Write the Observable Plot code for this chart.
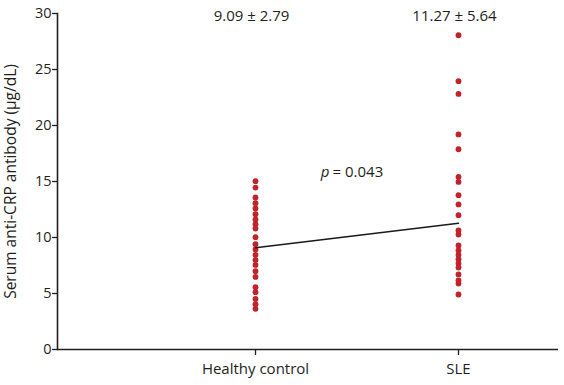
<!DOCTYPE html>
<html>
<head>
<meta charset="utf-8">
<script src="https://cdn.jsdelivr.net/npm/d3@7"></script>
<script src="https://cdn.jsdelivr.net/npm/@observablehq/plot@0.6"></script>
<style>
  html, body { margin: 0; padding: 0; background: #fff; }
</style>
</head>
<body>
<div id="chart"></div>
<script>
const groups = ["Healthy control", "SLE"];
const healthyValues = [15.03, 14.46, 13.57, 13.06, 12.59, 12.08, 11.61, 11.19, 10.80, 10.03, 9.40, 8.93, 8.45, 8.00, 7.55, 6.99, 6.48, 5.56, 5.12, 4.52, 4.04, 3.63];
const sleValues = [28.06, 23.96, 22.82, 19.20, 17.88, 15.41, 14.96, 13.78, 12.95, 11.99, 10.63, 10.27, 9.29, 8.84, 8.45, 8.06, 7.68, 7.32, 6.70, 6.16, 5.89, 4.91];
const means = [9.09, 11.27];
const meanLabels = ["9.09 ± 2.79", "11.27 ± 5.64"];
const pLabel = "= 0.043";
const yTicks = [0, 5, 10, 15, 20, 25, 30];

const points = [
  ...healthyValues.map(v => ({group: groups[0], value: v})),
  ...sleValues.map(v => ({group: groups[1], value: v}))
];
const meanData = groups.map((g, i) => ({group: g, value: means[i], label: meanLabels[i]}));

const font = "'Open Sans', 'Noto Sans', sans-serif";

const plot = Plot.plot({
  width: 564,
  height: 385,
  marginLeft: 57,
  marginRight: 6,
  marginTop: 13,
  marginBottom: 36,
  style: {fontFamily: font, fontSize: "14px", color: "#231f20", background: "#fff"},
  x: {type: "point", domain: groups, range: [255, 458], padding: 0},
  y: {domain: [0, 30], range: [349, 13]},
  marks: [
    Plot.axisY({
      ticks: yTicks,
      tickSize: 5,
      tickPadding: 1,
      stroke: "#231f20",
      strokeWidth: 1.3,
      fontSize: 14.5,
      label: null
    }),
    Plot.text(["Serum anti-CRP antibody (μg/dL)"], {
      frameAnchor: "left", text: d => d, rotate: -90, dx: -46,
      fontSize: 15.5, fill: "#231f20", textAnchor: "middle"
    }),
    Plot.axisX({
      tickSize: 6,
      tickPadding: 8,
      stroke: "#231f20",
      strokeWidth: 1.3,
      fontSize: 15,
      label: null
    }),
    Plot.ruleY([0], {stroke: "#231f20", strokeWidth: 1.6}),
    Plot.frame({anchor: "left", stroke: "#231f20", strokeWidth: 1.6}),
    Plot.dot(points, {x: "group", y: "value", r: 2.9, fill: "#c1232b", stroke: "none"}),
    Plot.line(meanData, {x: "group", y: "value", stroke: "#1a1a1a", strokeWidth: 1.6}),
    Plot.text(meanData, {x: "group", y: 29.8, text: "label", fontSize: 15, fill: "#231f20", dx: -4}),
    Plot.text([pLabel], {x: () => groups[0], y: 15.8, text: d => d, fontSize: 15, fill: "#231f20", dx: 77, textAnchor: "start"}),
    Plot.text(["p"], {x: () => groups[0], y: 15.8, text: d => d, fontSize: 15, fontStyle: "italic", fill: "#231f20", dx: 74, textAnchor: "end"})
  ]
});
document.getElementById("chart").appendChild(plot);
</script>
</body>
</html>
